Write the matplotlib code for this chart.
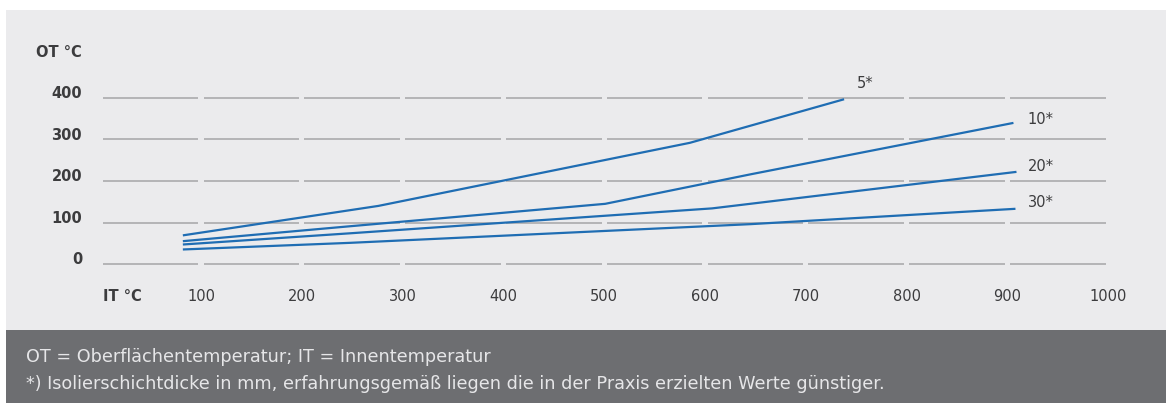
import matplotlib.pyplot as plt
from matplotlib.patches import Rectangle

# Isolierschichtdicke in mm -> (IT, OT) Stützpunkte
labels = ["5*", "10*", "20*", "30*"]
it_5 = [82, 276, 585, 738]
ot_5 = [69, 140, 292, 397]
it_10 = [82, 248, 501, 645, 906]
ot_10 = [55, 91, 145, 216, 340]
it_20 = [82, 248, 607, 909]
ot_20 = [47, 74, 134, 222]
it_30 = [82, 248, 645, 908]
ot_30 = [35, 51, 96, 133]
label_pos = [(751, 434), (920, 347), (920, 236), (920, 149)]

xticks = [100, 200, 300, 400, 500, 600, 700, 800, 900, 1000]
yticks = [0, 100, 200, 300, 400]

note1 = "OT = Oberflächentemperatur; IT = Innentemperatur"
note2 = "*) Isolierschichtdicke in mm, erfahrungsgemäß liegen die in der Praxis erzielten Werte günstiger."

BLUE = "#1f6db3"
GRID = "#b4b4b6"
TXT = "#3c3c3e"
BG = "#ebebed"
DARK = "#6d6e71"
FONT = "DejaVu Sans"

W, H = 1166, 403
fig = plt.figure(figsize=(W / 100, H / 100), dpi=100)
fig.patch.set_facecolor("white")

# Hintergrundflächen
fig.add_artist(Rectangle((6 / W, 73 / H), 1, (393 - 73) / H, transform=fig.transFigure,
                         facecolor=BG, edgecolor="none", zorder=0))
fig.add_artist(Rectangle((6 / W, 0), 1, 73 / H, transform=fig.transFigure,
                         facecolor=DARK, edgecolor="none", zorder=0))

# Achse so gelegt, dass x_px = 100.2 + 1.008*x und y_px = 264 - 0.415*y
x0, x1 = 0, 1050
y0, y1 = -20, 430
px_l = 100.2
px_r = 100.2 + 1.008 * x1
py_b = 264 - 0.415 * y0
py_t = 264 - 0.415 * y1
ax = fig.add_axes([px_l / W, (H - py_b) / H, (px_r - px_l) / W, (py_b - py_t) / H])
ax.set_xlim(x0, x1)
ax.set_ylim(y0, y1)
ax.axis("off")

# segmentierte Gitterlinien
for y in yticks:
    for xs in range(0, 1000, 100):
        ax.plot([xs + 2.5, xs + 97.5], [y, y], color=GRID, lw=1.4,
                solid_capstyle="butt", zorder=1)

series = [(it_5, ot_5), (it_10, ot_10), (it_20, ot_20), (it_30, ot_30)]
for (xs, ys), lab, (lx, ly) in zip(series, labels, label_pos):
    ax.plot(xs, ys, color=BLUE, lw=1.6, zorder=3, solid_capstyle="butt")
    ax.text(lx, ly, lab, ha="left", va="center", fontsize=10.5, color=TXT,
            family=FONT, clip_on=False)

for y in yticks:
    ax.text(-18, y + 10, str(y), ha="right", va="center", fontsize=10.5, color=TXT,
            family=FONT, fontweight="bold", clip_on=False)
for x in xticks:
    ax.text(x, -79.5, str(x), ha="center", va="center", fontsize=10.5, color=TXT,
            family=FONT, clip_on=False)

ax.text(-18, 509, "OT °C", ha="right", va="center", fontsize=10.5, color=TXT,
        family=FONT, fontweight="bold", clip_on=False)
ax.text(2.8, -79.5, "IT °C", ha="left", va="center", fontsize=10.5, color=TXT,
        family=FONT, fontweight="bold", clip_on=False)

# Fußnote, Schriftgröße an die Zeilenbreite angepasst
t1 = fig.text(26 / W, 1 - 357 / H, note1, ha="left", va="center", fontsize=12,
              color="#e6e6e8", family=FONT)
t2 = fig.text(26 / W, 1 - 384 / H, note2, ha="left", va="center", fontsize=12,
              color="#e6e6e8", family=FONT)
r = fig.canvas.get_renderer()
w2 = t2.get_window_extent(r).width
fs = 12 * (878 - 26) / w2
t1.set_fontsize(fs)
t2.set_fontsize(fs)

fig.savefig("out.png", dpi=100, facecolor=fig.get_facecolor())
